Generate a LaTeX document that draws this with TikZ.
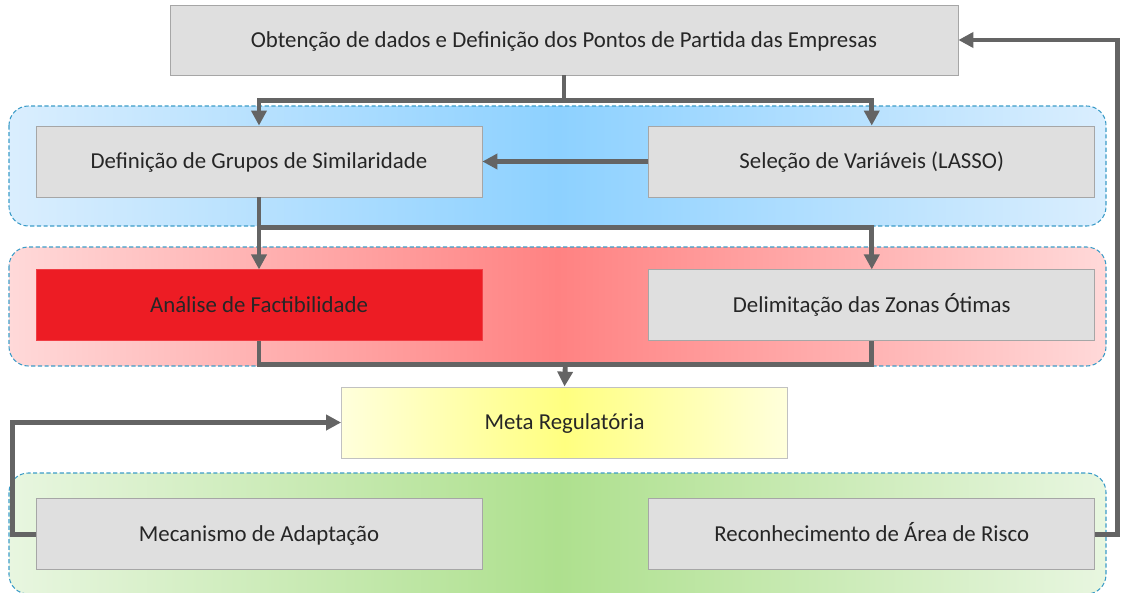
\documentclass[tikz,border=0pt]{standalone}
\usepackage{fontspec}
\setmainfont{Carlito}
\usepackage{tikz}
\usetikzlibrary{arrows.meta, positioning, backgrounds, calc}
\definecolor{boxgray}{HTML}{DFDFDF}
\definecolor{boxline}{HTML}{A6A6A6}
\definecolor{textgray}{HTML}{262626}
\definecolor{linkgray}{HTML}{646464}
\definecolor{zoneline}{HTML}{3C9CC8}
\definecolor{factred}{HTML}{ED1C24}
\definecolor{blueedge}{HTML}{DAEEFE}
\definecolor{bluemid}{HTML}{8DD1FF}
\definecolor{rededge}{HTML}{FFD9D9}
\definecolor{redmid}{HTML}{FF8282}
\definecolor{greenedge}{HTML}{E8F6E0}
\definecolor{greenmid}{HTML}{AEE08E}
\definecolor{yellowedge}{HTML}{FFFFDC}
\definecolor{yellowmid}{HTML}{FFFF80}
\tikzstyle{block} = [rectangle, minimum width=8.92cm, minimum height=1.42cm, align=center, inner sep=2mm, text height=10.5pt, text depth=2pt, draw=boxline, line width=0.5pt, fill=boxgray, text=textgray, font=\fontsize{13}{15}\selectfont]
\tikzstyle{arrow} = [draw=linkgray, line width=2.8pt, -{Triangle[length=8.5pt, width=8.5pt]}]
\tikzstyle{link} = [draw=linkgray, line width=2.8pt]
\tikzstyle{zone} = [draw=zoneline, line width=0.6pt, dash pattern=on 2.4pt off 1.4pt, rounded corners=11pt]

\begin{document}
\begin{tikzpicture}[x=0.02cm, y=-0.02cm]
  \useasboundingbox (0,0) rectangle (1121,592);
  \node[block, minimum width=15.76cm, minimum height=1.4cm] (dados) at (564,40) {Obtenção de dados e Definição dos Pontos de Partida das Empresas};

  \node[block] (grupos) at (259,161.5) {Definição de Grupos de Similaridade};
  \node[block, right=3.32cm of grupos] (lasso) {Seleção de Variáveis (LASSO)};
  \node[block, fill=factred, draw=factred!85!white, below=1.44cm of grupos] (factib) {Análise de Factibilidade};
  \node[block, below=1.44cm of lasso] (zonas) {Delimitação das Zonas Ótimas};
  \node[block, draw=boxline!70!white, left color=yellowedge, right color=yellowedge, middle color=yellowmid] (meta) at (564.5,422.5) {Meta Regulatória};
  \node[block, below=3.14cm of factib] (adapt) {Mecanismo de Adaptação};
  \node[block, right=3.32cm of adapt] (risco) {Reconhecimento de Área de Risco};

  \draw[arrow] (dados.south) -- ++(0,25) -| (grupos.north);
  \draw[arrow] (dados.south) -- ++(0,25) -| (lasso.north);
  \draw[arrow] (lasso.west) -- (grupos.east);
  \draw[arrow] (grupos.south) -- (factib.north);
  \draw[arrow] (grupos.south) -- ++(0,30) -| (zonas.north);
  \draw[link] (factib.south) -- ++(0,23) -| (zonas.south);
  \coordinate (juncao) at ($(factib.south)!0.5!(zonas.south)+(0,23)$);
  \draw[arrow] (juncao) -- (meta.north);
  \draw[arrow] (adapt.west) -- ++(-23,0) |- (meta.west);
  \draw[arrow] (risco.east) -- ++(22,0) |- (dados.east);

  % faixas de fundo
  \begin{scope}[on background layer]
    \draw[zone, left color=blueedge, right color=blueedge, middle color=bluemid] (9,106) rectangle (1106,226);
    \draw[zone, left color=rededge, right color=rededge, middle color=redmid] (9,247) rectangle (1106,366);
    \draw[zone, left color=greenedge, right color=greenedge, middle color=greenmid] (9,473) rectangle (1106,594);
  \end{scope}
\end{tikzpicture}
\end{document}
